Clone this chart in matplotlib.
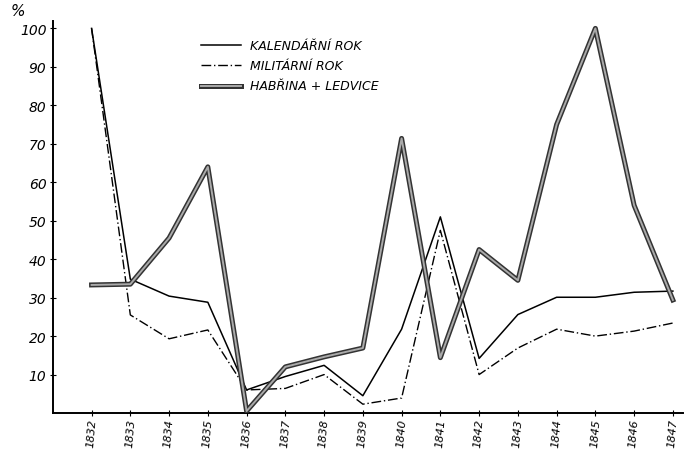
import matplotlib
matplotlib.use("Agg")
import matplotlib.pyplot as plt

# years and the three series (% values)
years = list(range(1832, 1848))
kalendarni = [100, 34.8, 30.4, 28.8, 6.0, 9.5, 12.4, 4.5, 21.8, 51.0, 14.2, 25.6, 30.1, 30.1, 31.4, 31.7]
militarni = [100, 25.5, 19.3, 21.6, 6.0, 6.4, 10.0, 2.3, 3.9, 47.5, 10.0, 16.9, 21.8, 20.0, 21.3, 23.4]
habrina = [33.3, 33.5, 45.5, 64.0, 0.5, 12.0, 14.6, 16.9, 71.4, 14.4, 42.5, 34.5, 75.0, 100, 54.0, 29.4]

yticks = [10, 20, 30, 40, 50, 60, 70, 80, 90, 100]

fig = plt.figure(figsize=(6.86, 4.52), dpi=100)
ax = fig.add_axes([0.077, 0.084, 0.918, 0.868])

# Habřina + Ledvice drawn as a double (outlined) line
ax.plot(years, habrina, color="#333333", lw=3.6, solid_joinstyle="round", zorder=3)
ax.plot(years, habrina, color="#aaaaaa", lw=1.4, solid_joinstyle="round", zorder=4)
ax.plot(years, kalendarni, color="black", lw=1.1, zorder=2)
ax.plot(years, militarni, color="black", lw=1.0, ls=(0, (7, 2, 1, 2)), zorder=2)

ax.set_xlim(1831.0, 1847.25)
ax.set_ylim(0, 102)

for s in ["top", "right"]:
    ax.spines[s].set_visible(False)
for s in ["left", "bottom"]:
    ax.spines[s].set_linewidth(1.4)

ax.set_xticks(years)
ax.set_xticklabels([str(y) for y in years], rotation=85, fontstyle="italic", fontsize=8)
ax.set_yticks(yticks)
ax.set_yticklabels([str(v) for v in yticks], fontstyle="italic", fontsize=10)
ax.tick_params(axis="both", direction="inout", length=5, width=0.8, pad=2)
ax.tick_params(axis="x", pad=1)

fig.text(0.015, 0.965, "%", fontsize=11, fontstyle="italic")

# hand-made legend
lx = [0.293, 0.352]
ly = [0.898, 0.853, 0.808]
labels = ["KALENDÁŘNÍ ROK", "MILITÁRNÍ ROK", "HABŘINA + LEDVICE"]
fig.add_artist(plt.Line2D(lx, [ly[0]] * 2, color="black", lw=1.1, transform=fig.transFigure))
fig.add_artist(plt.Line2D(lx, [ly[1]] * 2, color="black", lw=1.0, ls=(0, (7, 2, 1, 2)),
                          transform=fig.transFigure))
fig.add_artist(plt.Line2D(lx, [ly[2]] * 2, color="#333333", lw=3.6, transform=fig.transFigure))
fig.add_artist(plt.Line2D(lx, [ly[2]] * 2, color="#aaaaaa", lw=1.4, transform=fig.transFigure))
for y, lab in zip(ly, labels):
    fig.text(0.365, y, lab, fontsize=9, fontstyle="italic", va="center")

fig.savefig("out.png", dpi=100)
